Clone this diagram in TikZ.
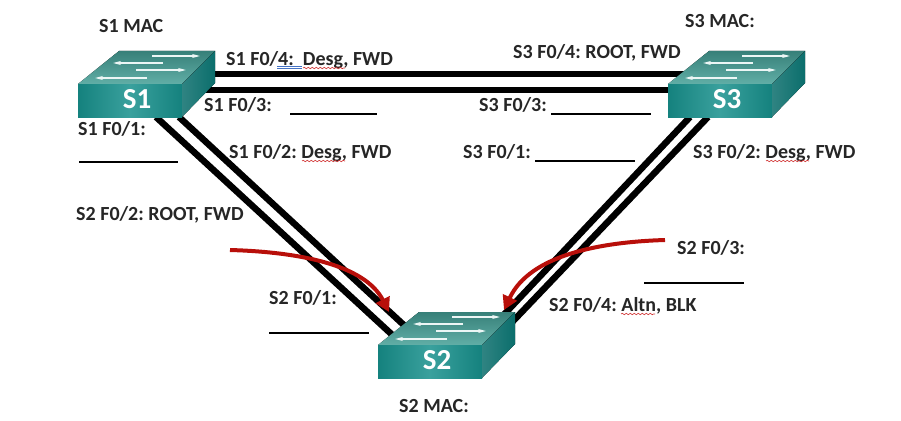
\documentclass[tikz,border=0pt]{standalone}
\usepackage{fontspec}
\setmainfont{Carlito}
\frenchspacing
\usetikzlibrary{arrows.meta,decorations.pathmorphing}
\definecolor{darkred}{HTML}{B80F0A}
\definecolor{topteal}{HTML}{45A097}
\definecolor{frontteal}{HTML}{17908C}
\definecolor{sideteal}{HTML}{0B6E6C}
\definecolor{wavyred}{HTML}{D03030}
\definecolor{wavyblue}{HTML}{4472C4}
\tikzset{
  portlabel/.style={anchor=base west, inner sep=0pt, font=\fontsize{20}{22}\selectfont\bfseries, text=black!85},
  trunk/.style={line width=6.5pt, black},
  blank/.style={line width=1.5pt, black},
  stparrow/.style={line width=4pt, darkred, -{Triangle[length=14pt,width=15pt]}},
  wavy/.style={wavyred, line width=0.6pt, decorate, decoration={snake, amplitude=0.7pt, segment length=4pt}},
  switchbox/.pic={
    \fill[top color=topteal!80!black, bottom color=topteal!85!white] (0,0) -- (41,-33) -- (137,-33) -- (104,0) -- cycle;
    \fill[left color=frontteal!90!black, right color=frontteal!90!black, middle color=frontteal!85!white] (0,0) rectangle (104,33);
    \fill[left color=sideteal!85!white, right color=sideteal] (104,0) -- (137,-33) -- (137,-1) -- (104,33) -- cycle;
    \draw[white!90!topteal, line width=1.4pt, -{Stealth[length=8pt,width=4pt]}] (74,-28) -- (122,-28);
    \draw[white!90!topteal, line width=1.4pt, -{Stealth[length=8pt,width=4pt]}] (85,-21) -- (35,-21);
    \draw[white!90!topteal, line width=1.4pt, -{Stealth[length=8pt,width=4pt]}] (58,-14) -- (108,-14);
    \draw[white!90!topteal, line width=1.4pt, -{Stealth[length=8pt,width=4pt]}] (69,-6) -- (17,-6);
    \node[inner sep=0pt, text=white, font=\fontsize{29}{31}\selectfont\bfseries] (-name) at (59,15) {#1};
  },
}
\begin{document}
\begin{tikzpicture}[x=1pt,y=-1pt]
    \useasboundingbox (0,0) rectangle (901,420);

    % Port ends of the links
    \coordinate (s1f4) at (190,74);
    \coordinate (s3f4) at (690,74);
    \coordinate (s1f3) at (170,90);
    \coordinate (s3f3) at (690,90);
    \coordinate (s1f1) at (156,117);
    \coordinate (s2f2) at (400,342);
    \coordinate (s1f2) at (179,117);
    \coordinate (s2f1) at (420,340);
    \coordinate (s3f1) at (690,117);
    \coordinate (s2f3) at (480,340);
    \coordinate (s3f2) at (708,117);
    \coordinate (s2f4) at (495,340);

    % Links
    \draw[trunk] (s1f4) -- (s3f4);
    \draw[trunk] (s1f3) -- (s3f3);
    \draw[trunk] (s1f1) -- (s2f2);
    \draw[trunk] (s1f2) -- (s2f1);
    \draw[trunk] (s3f1) -- (s2f3);
    \draw[trunk] (s3f2) -- (s2f4);

    % Switches
    \pic (s1) at (78,84) {switchbox={S1}};
    \pic (s3) at (668,84) {switchbox={S3}};
    \pic (s2) at (378,345) {switchbox={S2}};

    % Blocked and root path arrows
    \coordinate (rootstart) at (230,250);
    \coordinate (rootend) at (389,312);
    \coordinate (altnstart) at (665,240);
    \coordinate (altnend) at (504,310);
    \draw[stparrow] (rootstart) .. controls (300,252) and (365,265) .. (rootend);
    \draw[stparrow] (altnstart) .. controls (600,242) and (530,255) .. (altnend);

    % Labels
    \node[portlabel] (s1mac) at (99,33) {S1 MAC};
    \node[portlabel] (s3mac) at (685,28) {S3 MAC:};
    \node[portlabel] (s2mac) at (399,412) {S2 MAC:};
    \node[portlabel] (s1f4txt) at (226,65) {S1 F0/4:\ \ Desg, FWD};
    \node[portlabel] (s3f4txt) at (513,59) {S3 F0/4: ROOT, FWD};
    \node[portlabel] (s1f3txt) at (204,111) {S1 F0/3:};
    \node[portlabel] (s3f3txt) at (479,111) {S3 F0/3:};
    \node[portlabel] (s1f1txt) at (78,135) {S1 F0/1:};
    \node[portlabel] (s1f2txt) at (229,158) {S1 F0/2: Desg, FWD};
    \node[portlabel] (s3f1txt) at (463,158) {S3 F0/1:};
    \node[portlabel] (s3f2txt) at (693,158) {S3 F0/2: Desg, FWD};
    \node[portlabel] (s2f2txt) at (76,220) {S2 F0/2: ROOT, FWD};
    \node[portlabel] (s2f3txt) at (677,254) {S2 F0/3:};
    \node[portlabel] (s2f1txt) at (269,304) {S2 F0/1:};
    \node[portlabel] (s2f4txt) at (549,311) {S2 F0/4: Altn, BLK};

    % Blanks
    \draw[blank] (290,114) -- (377,114);
    \draw[blank] (551,114) -- (651,114);
    \draw[blank] (79,162) -- (178,162);
    \draw[blank] (535,161) -- (635,161);
    \draw[blank] (644,283) -- (744,283);
    \draw[blank] (269,333) -- (369,333);

    % Spell check marks
    \draw[wavy] (303,68) -- (345,68);
    \draw[wavy] (302,161) -- (345,161);
    \draw[wavy] (766,161) -- (809,161);
    \draw[wavy] (621,314) -- (655,314);
    \draw[wavyblue, line width=0.7pt] (277,66.5) -- (302,66.5);
    \draw[wavyblue, line width=0.7pt] (277,68.5) -- (302,68.5);
\end{tikzpicture}
\end{document}
